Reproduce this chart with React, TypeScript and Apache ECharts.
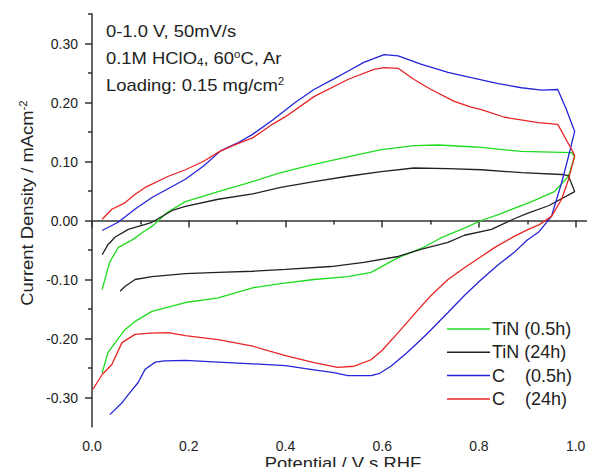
import React, { useEffect, useRef } from "react";
import * as echarts from "echarts";

// ---- data (x = potential V vs RHF, y = current density mA/cm2) ----
const tinHalfHour: number[][] = [
  [0.021, -0.117], [0.03, -0.09], [0.037, -0.07], [0.054, -0.046], [0.085, -0.032],
  [0.105, -0.02], [0.124, -0.01], [0.156, 0.014], [0.193, 0.032], [0.261, 0.049],
  [0.332, 0.066], [0.39, 0.081], [0.459, 0.095], [0.529, 0.108], [0.598, 0.12],
  [0.666, 0.127], [0.716, 0.128], [0.784, 0.125], [0.805, 0.124], [0.888, 0.117],
  [0.95, 0.116], [0.992, 0.115], [0.998, 0.108],
  [0.985, 0.075], [0.956, 0.049], [0.909, 0.032], [0.84, 0.01], [0.805, 0.0],
  [0.77, -0.013], [0.72, -0.03], [0.687, -0.045], [0.633, -0.063], [0.577, -0.088],
  [0.529, -0.095], [0.459, -0.1], [0.39, -0.107], [0.332, -0.114], [0.261, -0.131],
  [0.193, -0.139], [0.124, -0.154], [0.089, -0.171], [0.068, -0.185], [0.048, -0.207],
  [0.033, -0.224], [0.021, -0.258],
];

const tin24h: number[][] = [
  [0.021, -0.058], [0.033, -0.041], [0.048, -0.028], [0.075, -0.015], [0.124, -0.003],
  [0.166, 0.017], [0.193, 0.024], [0.261, 0.036], [0.332, 0.045], [0.39, 0.056],
  [0.459, 0.066], [0.529, 0.075], [0.598, 0.083], [0.666, 0.089], [0.736, 0.088],
  [0.805, 0.086], [0.888, 0.081], [0.971, 0.078], [0.985, 0.076], [0.998, 0.049],
  [0.944, 0.025], [0.9, 0.012], [0.873, 0.003], [0.826, -0.015], [0.77, -0.025],
  [0.736, -0.037], [0.68, -0.049], [0.633, -0.061], [0.562, -0.071], [0.494, -0.078],
  [0.4, -0.083], [0.332, -0.086], [0.261, -0.088], [0.193, -0.09], [0.124, -0.095],
  [0.089, -0.1], [0.068, -0.112], [0.058, -0.12],
];

const carbonHalfHour: number[][] = [
  [0.021, -0.017], [0.054, -0.003], [0.09, 0.02], [0.124, 0.039], [0.16, 0.055],
  [0.193, 0.07], [0.23, 0.092], [0.266, 0.118], [0.3, 0.131], [0.332, 0.146],
  [0.373, 0.17], [0.42, 0.2], [0.459, 0.222], [0.5, 0.24], [0.529, 0.253],
  [0.562, 0.268], [0.604, 0.281], [0.633, 0.279], [0.68, 0.265], [0.736, 0.251],
  [0.784, 0.242], [0.84, 0.232], [0.888, 0.225], [0.93, 0.221], [0.963, 0.222],
  [0.98, 0.19], [0.998, 0.151],
  [0.985, 0.108], [0.971, 0.064], [0.95, 0.007], [0.923, -0.02], [0.9, -0.033],
  [0.873, -0.054], [0.84, -0.075], [0.805, -0.1], [0.77, -0.127], [0.736, -0.156],
  [0.7, -0.186], [0.68, -0.202], [0.65, -0.225], [0.618, -0.247], [0.595, -0.259],
  [0.577, -0.263], [0.529, -0.263], [0.5, -0.258], [0.459, -0.253], [0.4, -0.246],
  [0.332, -0.243], [0.261, -0.24], [0.193, -0.237], [0.15, -0.238], [0.131, -0.24],
  [0.11, -0.252], [0.095, -0.275], [0.075, -0.295], [0.062, -0.309], [0.037, -0.329],
];

const carbon24h: number[][] = [
  [0.021, 0.002], [0.041, 0.019], [0.068, 0.03], [0.09, 0.045], [0.11, 0.056],
  [0.158, 0.075], [0.193, 0.086], [0.23, 0.1], [0.266, 0.118], [0.3, 0.13],
  [0.332, 0.14], [0.373, 0.163], [0.4, 0.176], [0.459, 0.21], [0.529, 0.239],
  [0.583, 0.256], [0.604, 0.259], [0.633, 0.258], [0.666, 0.239], [0.701, 0.222],
  [0.749, 0.202], [0.784, 0.192], [0.805, 0.188], [0.853, 0.175], [0.923, 0.166],
  [0.963, 0.163], [0.992, 0.12], [0.998, 0.11],
  [0.985, 0.069], [0.971, 0.036], [0.95, 0.007], [0.925, -0.007], [0.902, -0.015],
  [0.873, -0.027], [0.832, -0.046], [0.805, -0.061], [0.77, -0.08], [0.736, -0.1],
  [0.7, -0.128], [0.68, -0.146], [0.633, -0.19], [0.6, -0.22], [0.577, -0.236],
  [0.542, -0.247], [0.508, -0.249], [0.459, -0.241], [0.4, -0.229], [0.332, -0.213],
  [0.261, -0.202], [0.193, -0.195], [0.158, -0.19], [0.12, -0.191], [0.089, -0.193],
  [0.062, -0.207], [0.041, -0.244], [0.021, -0.261], [0.002, -0.286],
];

const seriesNames = ["TiN (0.5h)", "TiN (24h)", "C\u00a0\u00a0\u00a0\u00a0(0.5h)", "C\u00a0\u00a0\u00a0\u00a0(24h)"];
const seriesColors = ["#20dc20", "#222222", "#2424d8", "#e82424"];

const xMajorTicks = [0, 0.2, 0.4, 0.6, 0.8, 1.0];
const xMinorTicks = [0.1, 0.3, 0.5, 0.7, 0.9];
const yMajorTicks = [-0.3, -0.2, -0.1, 0, 0.1, 0.2, 0.3];
const yMinorTicks = [-0.25, -0.15, -0.05, 0.05, 0.15, 0.25, 0.35];

const annotationLines = [
  "0-1.0 V, 50mV/s",
  "0.1M HClO{sub|4}, 60{sup|o}C, Ar",
  "Loading: 0.15 mg/cm{sup|2}",
];

const FONT = "'Liberation Sans', Arial, Helvetica, sans-serif";
const TEXT = "#222";

export default function App() {
  const ref = useRef<HTMLDivElement>(null);

  useEffect(() => {
    if (!ref.current) return;
    const chart = echarts.init(ref.current, undefined, { renderer: "svg" });
    const allData = [tinHalfHour, tin24h, carbonHalfHour, carbon24h];

    const rich = {
      sub: { fontSize: 10, fontFamily: FONT, fill: TEXT, color: TEXT, padding: [9, 0, 0, 0] },
      sup: { fontSize: 10, fontFamily: FONT, fill: TEXT, color: TEXT, padding: [0, 0, 8, 0] },
    };

    const option: any = {
      animation: false,
      backgroundColor: "#ffffff",
      textStyle: { fontFamily: FONT },
      grid: { left: 92, top: 14, right: 0, bottom: 48, containLabel: false },
      xAxis: [
        {
          type: "value",
          min: 0,
          max: 1.04,
          axisLine: { show: true, lineStyle: { color: "#333", width: 1.5 } },
          axisTick: { show: true, customValues: xMajorTicks, length: 7, lineStyle: { color: "#333", width: 1.5 } },
          axisLabel: {
            customValues: xMajorTicks,
            formatter: (v: number) => v.toFixed(1),
            fontSize: 14,
            color: TEXT,
            fontFamily: FONT,
            margin: 12,
          },
          splitLine: { show: false },
        },
        {
          type: "value",
          position: "bottom",
          min: 0,
          max: 1.04,
          axisLine: { show: false },
          axisTick: { show: true, customValues: xMinorTicks, length: 4, lineStyle: { color: "#333", width: 1.5 } },
          axisLabel: { show: false },
          splitLine: { show: false },
        },
      ],
      yAxis: [
        {
          type: "value",
          min: -0.35,
          max: 0.35,
          axisLine: { show: true, lineStyle: { color: "#333", width: 1.5 } },
          axisTick: { show: true, customValues: yMajorTicks, length: 7, lineStyle: { color: "#333", width: 1.5 } },
          axisLabel: {
            customValues: yMajorTicks,
            formatter: (v: number) => (Math.abs(v) < 1e-9 ? "0.00" : v.toFixed(2)),
            fontSize: 14,
            color: TEXT,
            fontFamily: FONT,
            margin: 14,
          },
          splitLine: { show: false },
        },
        {
          type: "value",
          position: "left",
          min: -0.35,
          max: 0.35,
          axisLine: { show: false },
          axisTick: { show: true, customValues: yMinorTicks, length: 4, lineStyle: { color: "#333", width: 1.5 } },
          axisLabel: { show: false },
          splitLine: { show: false },
        },
      ],
      legend: {
        orient: "vertical",
        left: 447,
        top: 320,
        padding: 0,
        icon: "rect",
        itemWidth: 43,
        itemHeight: 1.5,
        itemGap: 5.3,
        data: seriesNames,
        textStyle: { fontSize: 18, color: TEXT, fontFamily: FONT, padding: [0, 0, 0, -3] },
      },
      series: allData.map((d, i) => ({
        type: "line",
        name: seriesNames[i],
        data: d,
        xAxisIndex: 0,
        yAxisIndex: 0,
        symbol: "none",
        smooth: false,
        lineStyle: { color: seriesColors[i], width: 1.3 },
        itemStyle: { color: seriesColors[i] },
      })),
      graphic: [
        ...annotationLines.map((t, i) => ({
          type: "text",
          x: 106,
          y: 31 + i * 27,
          scaleX: 1.15,
          style: {
            text: t,
            fontSize: 16,
            fontFamily: FONT,
            fill: TEXT,
            textAlign: "left",
            textVerticalAlign: "middle",
            rich,
          },
        })),
        {
          type: "text",
          x: 343,
          y: 463,
          scaleX: 1.15,
          style: {
            text: "Potential / V s RHF",
            fontSize: 16,
            fontFamily: FONT,
            fill: TEXT,
            textAlign: "center",
            textVerticalAlign: "middle",
          },
        },
        {
          type: "text",
          x: 27,
          y: 203,
          rotation: Math.PI / 2,
          scaleX: 1.15,
          style: {
            text: "Current Density / mAcm{sup|-2}",
            fontSize: 16,
            fontFamily: FONT,
            fill: TEXT,
            textAlign: "center",
            textVerticalAlign: "middle",
            rich,
          },
        },
      ],
    };

    chart.setOption(option);
    return () => chart.dispose();
  }, []);

  return <div ref={ref} style={{ width: 595, height: 475, margin: -8 }} />;
}
